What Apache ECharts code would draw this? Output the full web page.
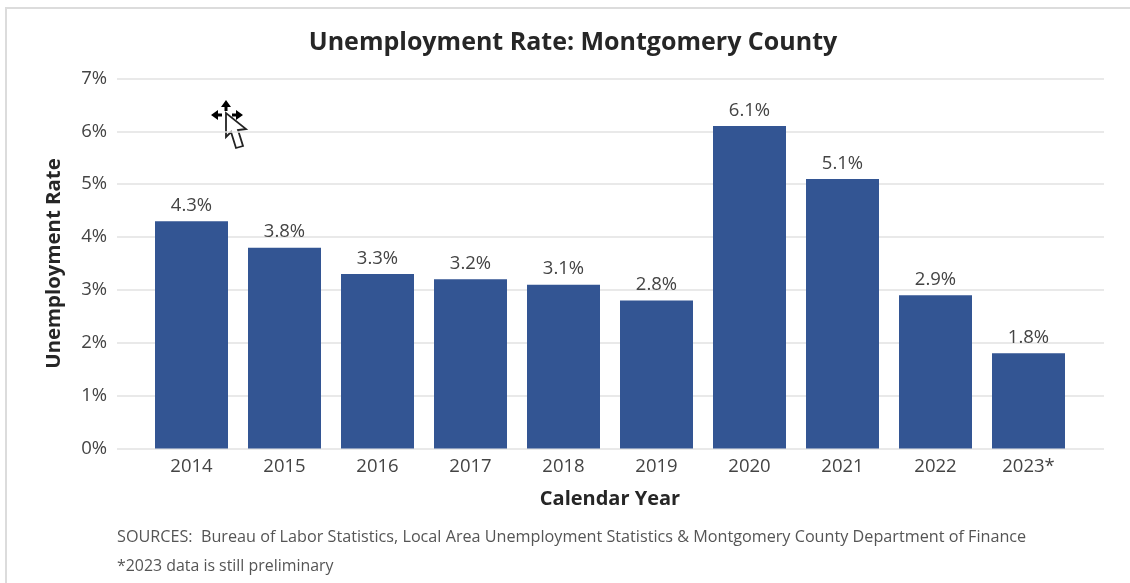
<!DOCTYPE html>
<html>
<head>
<meta charset="utf-8">
<style>html,body{margin:0;padding:0;background:#fff}#chart{width:1130px;height:583px}</style>
<script src="https://cdn.jsdelivr.net/npm/echarts@6/dist/echarts.min.js"></script>
</head>
<body>
<div id="chart"></div>
<script>
const years = ['2014','2015','2016','2017','2018','2019','2020','2021','2022','2023*'];
const rates = [4.3,3.8,3.3,3.2,3.1,2.8,6.1,5.1,2.9,1.8];
const yTicks = [0,1,2,3,4,5,6,7];
const titleText = 'Unemployment Rate: Montgomery County';
const yAxisTitle = 'Unemployment Rate';
const xAxisTitle = 'Calendar Year';
const sourceNote = 'SOURCES:  Bureau of Labor Statistics, Local Area Unemployment Statistics & Montgomery County Department of Finance';
const prelimNote = '*2023 data is still preliminary';

const FONT = '"Open Sans","Noto Sans",sans-serif';
const TEXT = '#444444';
const yMax = yTicks[yTicks.length - 1];

const chart = echarts.init(document.getElementById('chart'), null, {renderer: 'canvas'});
chart.setOption({
  animation: false,
  backgroundColor: '#ffffff',
  textStyle: {fontFamily: FONT},
  // The outer grid carries the full-width gridlines; the inner one keeps the bars inset from them.
  grid: [
    {left: 117, right: 26, top: 78.5, height: 370},
    {left: 145, width: 930, top: 78.5, height: 370}
  ],
  xAxis: [
    {gridIndex: 0, type: 'value', min: 0, max: 1, show: false},
    {
      gridIndex: 1, type: 'category', data: years,
      axisLine: {show: false}, axisTick: {show: false},
      axisLabel: {color: TEXT, fontFamily: FONT, fontSize: 18.5, margin: 9},
      name: xAxisTitle, nameLocation: 'middle', nameGap: 41,
      nameTextStyle: {color: '#262626', fontFamily: FONT, fontSize: 20, fontWeight: 'bold'}
    }
  ],
  yAxis: [
    {
      gridIndex: 0, type: 'value', min: 0, max: yMax, interval: 1,
      axisLine: {show: false}, axisTick: {show: false},
      axisLabel: {color: TEXT, fontFamily: FONT, fontSize: 18.5, margin: 10, padding: [2, 0, 0, 0], formatter: '{value}%'},
      splitLine: {show: true, lineStyle: {color: '#e2e2e2', width: 1.5}},
      name: yAxisTitle, nameLocation: 'middle', nameGap: 53, nameRotate: 90,
      nameTextStyle: {color: '#262626', fontFamily: FONT, fontSize: 20.4, fontWeight: 'bold'}
    },
    {gridIndex: 1, type: 'value', min: 0, max: yMax, show: false}
  ],
  series: [{
    type: 'bar',
    xAxisIndex: 1, yAxisIndex: 1,
    data: rates,
    barWidth: 73,
    itemStyle: {color: '#335593'},
    label: {
      show: true, position: 'top', distance: 6,
      color: TEXT, fontFamily: FONT, fontSize: 18.5,
      formatter: p => p.value.toFixed(1) + '%'
    }
  }],
  graphic: [
    {type: 'rect', silent: true, shape: {x: 5, y: 7, width: 1125, height: 2}, style: {fill: '#dcdcdc'}},
    {type: 'rect', silent: true, shape: {x: 5, y: 7, width: 2, height: 576}, style: {fill: '#dcdcdc'}},
    {type: 'text', x: 573, y: 30, style: {text: titleText, fill: '#262626', font: 'bold 25px ' + FONT, textAlign: 'center'}},
    {type: 'text', x: 117, y: 529, style: {text: sourceNote, fill: '#555555', font: '16.2px ' + FONT}},
    {type: 'text', x: 117, y: 558, style: {text: prelimNote, fill: '#555555', font: '15.9px ' + FONT}},
    // Pointer with a four-way move indicator
    {type: 'group', x: 226, y: 115, silent: true, children: [
      {type: 'polygon', shape: {points: [[0,-15],[-5,-8],[-1.5,-8],[-1.5,-4],[1.5,-4],[1.5,-8],[5,-8]]}, style: {fill: '#000'}},
      {type: 'polygon', shape: {points: [[-15,0],[-8,-5],[-8,-1.5],[-4,-1.5],[-4,1.5],[-8,1.5],[-8,5]]}, style: {fill: '#000'}},
      {type: 'polygon', shape: {points: [[17,0],[10,-5],[10,-1.5],[6,-1.5],[6,1.5],[10,1.5],[10,5]]}, style: {fill: '#000'}},
      {type: 'polygon', shape: {points: [[0,-2],[0,22],[5,17],[10,33],[17,31],[12,15],[20,14]]}, style: {fill: '#fff', stroke: '#222', lineWidth: 1.8}}
    ]}
  ]
});
</script>
</body>
</html>
